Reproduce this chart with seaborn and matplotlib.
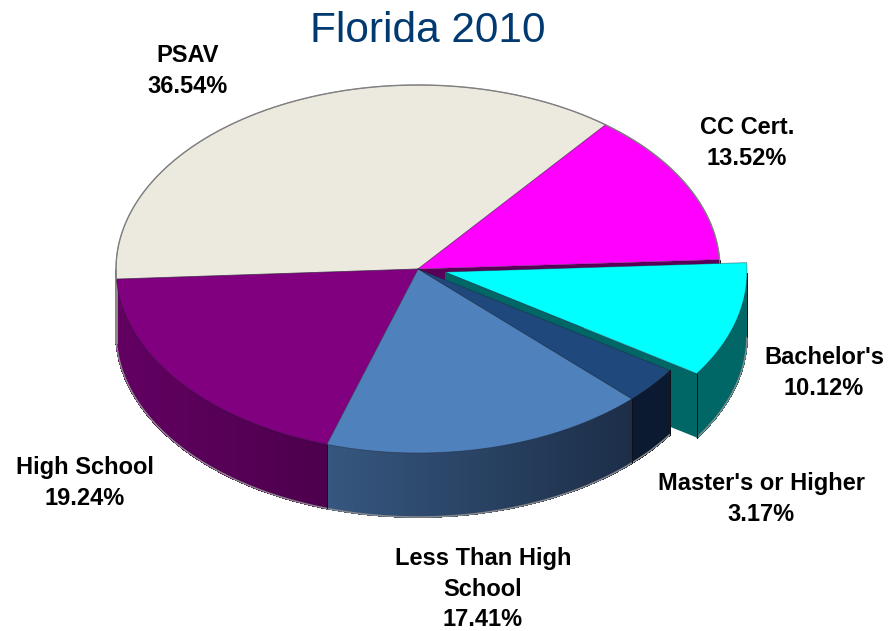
import numpy as np
import seaborn as sns
import matplotlib.pyplot as plt
from matplotlib.colors import to_rgb

sns.set_theme(style='white')
plt.rcParams['font.family'] = ['Liberation Sans', 'DejaVu Sans']

# slices clockwise, starting from the PSAV/CC boundary
names = ['CC Cert.', "Bachelor's", "Master's or Higher", 'Less Than High\nSchool', 'High School', 'PSAV']
shares = [13.52, 10.12, 3.17, 17.41, 19.24, 36.54]
top_colors = ['#FF00FF', '#00FFFF', '#1F497D', '#4F81BD', '#800080', '#ECE9DF']
wall_left = ['#5A005A', '#006666', '#0B1A30', '#36577F', '#620062', '#8A8880']
wall_right = ['#5A005A', '#006666', '#0B1A30', '#1C2E48', '#4C004C', '#8A8880']
label_xy = [(747, 143), (824, 373), (761, 499), (483, 589), (85, 483), (188, 71)]

cx, cy, rx, ry = 418, 269, 302, 184
depth = 64
start = 51.6
explode = {1: (27, 3)}

sweep = np.array(shares) / sum(shares) * 360
ends = np.concatenate([[start], start - np.cumsum(sweep)])
top_pal = sns.color_palette(top_colors)


def rim(a, off=(0, 0)):
    t = np.radians(a)
    return cx + off[0] + rx * np.cos(t), cy + off[1] - ry * np.sin(t)


def top_face(ax, i):
    off = explode.get(i, (0, 0))
    a = np.linspace(ends[i], ends[i + 1], 120)
    x, y = rim(a, off)
    x = np.r_[cx + off[0], x]
    y = np.r_[cy + off[1], y]
    ax.fill(x, y, color=top_pal[i], lw=0, zorder=3)
    ax.plot(np.r_[x, x[0]], np.r_[y, y[0]], color='#20202a', lw=0.6, alpha=0.45, zorder=3)


def radial_face(ax, i, a, color):
    off = explode.get(i, (0, 0))
    x, y = rim(a, off)
    px = [cx + off[0], x, x, cx + off[0]]
    py = [cy + off[1], y, y + depth, cy + off[1] + depth]
    ax.fill(px, py, color=color, lw=0, zorder=2)
    ax.plot(px[1:3], py[1:3], color='#101018', lw=0.7, zorder=2)


def outer_wall(ax, i):
    off = explode.get(i, (0, 0))
    a0, a1 = ends[i], ends[i + 1]
    # only the front half of the drum shows a wall
    a = np.linspace(a0, a1, 90)
    a = a[np.sin(np.radians(a)) < 0.0]
    if len(a) < 2:
        return
    x, y = rim(a, off)
    xl, xr = x.min(), x.max()
    c0, c1 = np.array(to_rgb(wall_left[i])), np.array(to_rgb(wall_right[i]))
    for k in range(len(a) - 1):
        f = ((x[k] + x[k + 1]) / 2 - xl) / max(xr - xl, 1)
        c = c0 + (c1 - c0) * f
        ax.fill([x[k], x[k + 1], x[k + 1], x[k]],
                [y[k], y[k + 1], y[k + 1] + depth, y[k] + depth],
                color=c, lw=0.8, antialiased=False, zorder=2)
    ax.plot(x, y + depth, color='#8a8a8a', lw=1.1, zorder=2)
    if i != 5:
        ax.plot([x[0], x[0]], [y[0], y[0] + depth], color='#101018', lw=0.7, zorder=2)
        ax.plot([x[-1], x[-1]], [y[-1], y[-1] + depth], color='#101018', lw=0.7, zorder=2)


fig = plt.figure(figsize=(8.88, 6.31), dpi=100)
ax = fig.add_axes([0, 0, 1, 1])
ax.set_xlim(0, 888)
ax.set_ylim(631, 0)
ax.axis('off')

# the exploded slice exposes the cut faces of its neighbours
radial_face(ax, 0, ends[1], '#5A005A')
radial_face(ax, 1, ends[2], '#006666')
outer_wall(ax, 1)
top_face(ax, 5)
top_face(ax, 0)
top_face(ax, 1)
for i in [2, 3, 4, 5]:
    outer_wall(ax, i)
for i in [2, 3, 4]:
    top_face(ax, i)

# grey rim on the back of the drum
a = np.linspace(ends[1], 183.1, 300)
x, y = rim(a)
ax.plot(x, y, color='#808080', lw=1.0, zorder=3)

ax.text(428, 31, 'Florida 2010', color='#003A70', fontsize=30.5, ha='center', va='center')
for name, share, (lx, ly) in zip(names, shares, label_xy):
    ax.text(lx, ly, f'{name}\n{share:.2f}%', color='black', fontsize=17, fontweight='bold',
            ha='center', va='center', linespacing=1.42, zorder=5)

plt.savefig('out.png', dpi=100)
